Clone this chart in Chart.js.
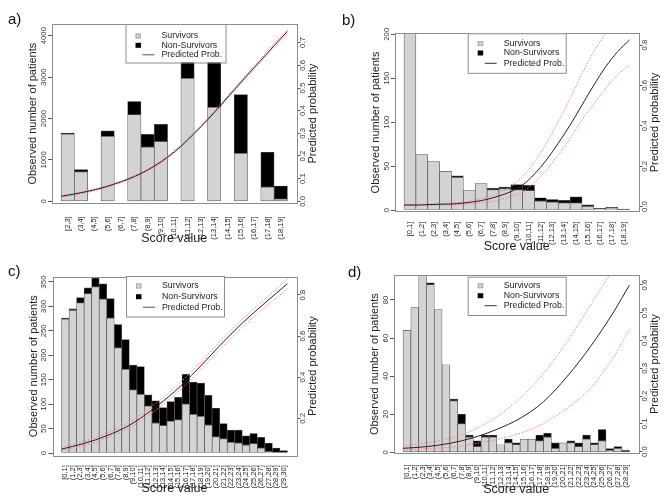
<!DOCTYPE html>
<html>
<head>
<meta charset="utf-8">
<script src="https://cdn.jsdelivr.net/npm/chart.js@4.4.1/dist/chart.umd.min.js"></script>
<style>
    body { margin: 0; background: #fff; }
    #wrap { position: relative; width: 669px; height: 501px; overflow: hidden; }
    canvas { position: absolute; }
</style>
</head>
<body>
<div id="wrap">
    <canvas id="panelA" width="334" height="250" style="left:0;top:0"></canvas>
    <canvas id="panelB" width="335" height="250" style="left:334px;top:0"></canvas>
    <canvas id="panelC" width="334" height="251" style="left:0;top:250px"></canvas>
    <canvas id="panelD" width="335" height="251" style="left:334px;top:250px"></canvas>
</div>
<script>
// --- Panel a) ---
const categoriesA = ['[2,3]', '(3,4]', '(4,5]', '(5,6]', '(6,7]', '(7,8]', '(8,9]', '(9,10]', '(10,11]',
    '(11,12]', '(12,13]', '(13,14]', '(14,15]', '(15,16]', '(16,17]', '(17,18]', '(18,19]'];
const survivorsA = [1620, 710, null, 1570, null, 2090, 1310, 1440, null, 2970, null, 2265, null, 1160, null, 345, 55];
const nonSurvivorsA = [25, 55, null, 130, null, 320, 305, 420, null, 520, null, 1350, null, 1415, null, 840, 315];
const probScoresA = [2, 3, 4, 5, 6, 7, 8, 9, 10, 11, 12, 13, 14, 15, 16, 17, 18, 19];
const probA = [0.022, 0.032, 0.044, 0.058, 0.076, 0.097, 0.123, 0.155, 0.195, 0.243, 0.300, 0.360, 0.425, 0.492, 0.558, 0.622, 0.687, 0.750];
const probUpperA = [0.026, 0.036, 0.048, 0.062, 0.080, 0.101, 0.127, 0.159, 0.199, 0.247, 0.304, 0.364, 0.430, 0.498, 0.565, 0.630, 0.696, 0.760];
const probLowerA = [0.018, 0.028, 0.040, 0.054, 0.072, 0.093, 0.119, 0.151, 0.191, 0.239, 0.296, 0.356, 0.420, 0.486, 0.551, 0.614, 0.678, 0.740];
const leftTicksA = [0, 1000, 2000, 3000, 4000];
const rightTicksA = [0, 0.1, 0.2, 0.3, 0.4, 0.5, 0.6, 0.7];

// --- Panel b) ---
const categoriesB = ['[0,1]', '(1,2]', '(2,3]', '(3,4]', '(4,5]', '(5,6]', '(6,7]', '(7,8]', '(8,9]', '(9,10]',
    '(10,11]', '(11,12]', '(12,13]', '(13,14]', '(14,15]', '(15,16]', '(16,17]', '(17,18]', '(18,19]'];
const survivorsB = [600, 63, 55, 44, 37, 22, 30, 23, 24, 23, 22, 10, 9, 8, 8, 4, 1, 2, null];
const nonSurvivorsB = [5, null, null, null, 2, null, null, 2, 2, 6, 6, 4, 3, 3, 7, 2, 1, 1, 1];
const probScoresB = [0, 1, 2, 3, 4, 5, 6, 7, 8, 9, 10, 11, 12, 13, 14, 15, 16, 17, 18, 19];
const probB = [0.008, 0.008, 0.010, 0.012, 0.013, 0.018, 0.025, 0.036, 0.053, 0.074, 0.107, 0.162, 0.231, 0.314, 0.404, 0.503, 0.602, 0.693, 0.767, 0.825];
const probUpperB = [0.010, 0.011, 0.013, 0.015, 0.018, 0.024, 0.033, 0.047, 0.068, 0.100, 0.149, 0.223, 0.314, 0.421, 0.536, 0.660, 0.767, 0.858, 0.930, 0.970];
const probLowerB = [0.006, 0.006, 0.007, 0.008, 0.009, 0.012, 0.016, 0.022, 0.033, 0.050, 0.074, 0.120, 0.180, 0.256, 0.338, 0.430, 0.510, 0.586, 0.652, 0.700];
const leftTicksB = [0, 50, 100, 150, 200];
const rightTicksB = [0, 0.2, 0.4, 0.6, 0.8];

// --- Panel c) ---
const categoriesC = ['[0,1]', '(1,2]', '(2,3]', '(3,4]', '(4,5]', '(5,6]', '(6,7]', '(7,8]', '(8,9]', '(9,10]',
    '(10,11]', '(11,12]', '(12,13]', '(13,14]', '(14,15]', '(15,16]', '(16,17]', '(17,18]', '(18,19]', '(19,20]',
    '(20,21]', '(21,22]', '(22,23]', '(23,24]', '(24,25]', '(25,26]', '(26,27]', '(27,28]', '(28,29]', '(29,30]'];
const survivorsC = [274, 292, 307, 326, 340, 315, 276, 215, 171, 129, 120, 96, 61, 56, 65, 68, 100, 79, 75, 57,
    33, 29, 22, 20, 16, 19, 10, 3, 1, 1];
const nonSurvivorsC = [2, 3, 11, 12, 18, 31, 40, 48, 61, 51, 57, 23, 46, 37, 40, 46, 61, 66, 68, 61,
    59, 31, 25, 27, 19, 21, 22, 17, 9, 4];
const probScoresC = [0, 3, 6, 9, 12, 15, 18, 21, 24, 27, 30];
const probC = [0.050, 0.078, 0.115, 0.166, 0.241, 0.330, 0.436, 0.553, 0.663, 0.761, 0.855];
const probUpperC = [0.060, 0.088, 0.127, 0.180, 0.258, 0.348, 0.455, 0.572, 0.682, 0.780, 0.878];
const probLowerC = [0.042, 0.068, 0.104, 0.153, 0.226, 0.313, 0.418, 0.534, 0.643, 0.740, 0.830];
const leftTicksC = [0, 50, 100, 150, 200, 250, 300, 350];
const rightTicksC = [0.2, 0.4, 0.6, 0.8];

// --- Panel d) ---
const categoriesD = ['[0,1]', '(1,2]', '(2,3]', '(3,4]', '(4,5]', '(5,6]', '(6,7]', '(7,8]', '(8,9]', '(9,10]',
    '(10,11]', '(11,12]', '(12,13]', '(13,14]', '(14,15]', '(15,16]', '(16,17]', '(17,18]', '(18,19]', '(19,20]',
    '(20,21]', '(21,22]', '(22,23]', '(23,24]', '(24,25]', '(25,26]', '(26,27]', '(27,28]', '(28,29]'];
const survivorsD = [64, 76, 96, 88, 75, 46, 27, 15, 8, 3, 8, 8, 4, 5, 4, 7, 7, 6, 8, 2, 5, 5, 3, 7, 4, 6, 1, 2, null];
const nonSurvivorsD = [null, null, null, 1, null, null, 1, 5, 1, 3, 1, 1, null, 2, 1, null, null, 3, 2, 3, null, 1, 2, 2, 1, 6, 1, 1, 1];
const probScoresD = [0, 3, 6, 9, 12, 15, 18, 21, 24, 27, 29];
const probD = [0.012, 0.018, 0.030, 0.050, 0.080, 0.120, 0.180, 0.270, 0.378, 0.504, 0.600];
const probUpperD = [0.020, 0.032, 0.048, 0.078, 0.126, 0.192, 0.282, 0.396, 0.528, 0.660, 0.740];
const probLowerD = [0.006, 0.010, 0.016, 0.028, 0.044, 0.066, 0.102, 0.156, 0.228, 0.342, 0.440];
const leftTicksD = [0, 20, 40, 60, 80];
const rightTicksD = [0, 0.1, 0.2, 0.3, 0.4, 0.5, 0.6];

Chart.defaults.font.family = "'Liberation Sans', Arial, sans-serif";
Chart.defaults.color = '#333';

const FONT = "'Liberation Sans', Arial, sans-serif";

// bar i sits at x = i, score edge s sits at x = s - first - 0.5
function toBars(values) {
    return values.map((v, i) => ({ x: i, y: v }));
}
function toCurve(scores, probs, first) {
    return scores.map((s, i) => ({ x: s - first - 0.5, y: probs[i] }));
}

// R-style extras: box, legend inside plot, rotated y labels, right title, panel tag
function makeRPlot(p) {
    return {
        id: 'rPlot',
        afterDatasetsDraw(chart) {
            const ctx = chart.ctx;
            const a = chart.chartArea;
            ctx.save();
            ctx.strokeStyle = '#8c8c8c';
            ctx.lineWidth = 1;
            ctx.strokeRect(Math.round(a.left) + 0.5, Math.round(a.top) + 0.5,
                Math.round(a.right - a.left), Math.round(a.bottom - a.top));

            // legend box
            const L = p.legend;
            const ds = chart.data.datasets;
            ctx.fillStyle = '#fff';
            ctx.fillRect(L.x, L.y, L.w, L.h);
            ctx.strokeStyle = '#8c8c8c';
            ctx.strokeRect(L.x + 0.5, L.y + 0.5, L.w, L.h);

            ctx.fillStyle = '#d3d3d3';
            ctx.fillRect(L.x + 10, L.rows[0] - 2.5, 5.5, 5);
            ctx.strokeStyle = '#aaa';
            ctx.strokeRect(L.x + 10.5, L.rows[0] - 2, 4.5, 4);
            ctx.fillStyle = '#000';
            ctx.fillRect(L.x + 10, L.rows[1] - 2.5, 5.5, 5);

            ctx.strokeStyle = p.legendLine.color;
            ctx.lineWidth = p.legendLine.width;
            ctx.beginPath();
            ctx.moveTo(L.x + 17, L.rows[2]);
            ctx.lineTo(L.x + 29, L.rows[2]);
            ctx.stroke();

            ctx.fillStyle = '#222';
            ctx.font = '8.8px ' + FONT;
            ctx.textAlign = 'left';
            ctx.textBaseline = 'middle';
            ctx.fillText(ds[3].label, L.x + 36, L.rows[0]);
            ctx.fillText(ds[4].label, L.x + 36, L.rows[1]);
            ctx.fillText(ds[0].label, L.x + 36, L.rows[2]);
            ctx.restore();
        },
        afterDraw(chart) {
            const ctx = chart.ctx;
            const a = chart.chartArea;
            ctx.save();
            ctx.fillStyle = '#333';
            ctx.font = '7.8px ' + FONT;
            ctx.textAlign = 'center';
            ctx.textBaseline = 'middle';

            const drawRotated = (text, x, y) => {
                ctx.save();
                ctx.translate(x, y);
                ctx.rotate(-Math.PI / 2);
                ctx.fillText(text, 0, 0);
                ctx.restore();
            };

            const yl = chart.scales.y;
            yl.ticks.forEach(t => drawRotated(String(t.value), a.left - 8.5, yl.getPixelForValue(t.value)));
            const yr = chart.scales.yRight;
            yr.ticks.forEach(t => drawRotated(t.value.toFixed(1), a.right + 6.5, yr.getPixelForValue(t.value)));

            // right axis title, R reads it bottom to top
            ctx.fillStyle = '#222';
            ctx.font = '11px ' + FONT;
            drawRotated('Predicted probability', a.right + 16, (a.top + a.bottom) / 2);

            // panel tag
            ctx.font = '15px ' + FONT;
            ctx.textAlign = 'left';
            ctx.fillStyle = '#111';
            ctx.fillText(p.tag, p.tagPos[0], p.tagPos[1]);
            ctx.restore();
        }
    };
}

function buildPanel(p) {
    const canvas = document.getElementById(p.id);
    const W = canvas.width;
    const H = canvas.height;
    const n = p.categories.length;
    const pad = n * 0.04;
    const lineStyle = { pointRadius: 0, borderWidth: 1, cubicInterpolationMode: 'monotone', yAxisID: 'yRight', order: 0, fill: false };
    const ciStyle = { ...lineStyle, borderColor: '#ff8080', borderDash: [1.5, 1.5] };
    const barStyle = { yAxisID: 'y', stack: 'obs', barPercentage: 1, categoryPercentage: 1, borderWidth: 0.7, borderColor: '#555', borderSkipped: false, order: 1 };

    return new Chart(canvas, {
        type: 'bar',
        data: {
            datasets: [
                { type: 'line', label: 'Predicted Prob.', data: toCurve(p.probScores, p.prob, p.first), borderColor: '#222', ...lineStyle },
                { type: 'line', label: 'Upper', data: toCurve(p.probScores, p.upper, p.first), ...ciStyle },
                { type: 'line', label: 'Lower', data: toCurve(p.probScores, p.lower, p.first), ...ciStyle },
                { label: 'Survivors', data: toBars(p.survivors), backgroundColor: '#d3d3d3', ...barStyle },
                { label: 'Non-Survivors', data: toBars(p.nonSurvivors), backgroundColor: '#000', ...barStyle }
            ]
        },
        options: {
            responsive: false,
            animation: false,
            devicePixelRatio: 1,
            layout: { padding: { top: p.area.top, left: 0, right: 0, bottom: 0 } },
            plugins: { legend: { display: false }, tooltip: { enabled: false } },
            scales: {
                x: {
                    type: 'linear',
                    stacked: true,
                    offset: false,
                    min: -0.5 - pad,
                    max: n - 0.5 + pad,
                    afterBuildTicks: s => { s.ticks = p.categories.map((c, i) => ({ value: i })); },
                    afterFit: s => { s.height = H - p.area.bottom; },
                    grid: { display: false },
                    border: { display: false },
                    ticks: {
                        autoSkip: false,
                        minRotation: 90,
                        maxRotation: 90,
                        padding: p.xTickPad,
                        font: { size: 7.5 },
                        color: '#222',
                        callback: v => p.categories[v]
                    },
                    title: {
                        display: true,
                        text: 'Score value',
                        font: { size: 12.5 },
                        color: '#222',
                        padding: { top: 0, bottom: p.xTitlePad }
                    }
                },
                y: {
                    position: 'left',
                    stacked: true,
                    min: p.leftRange[0],
                    max: p.leftRange[1],
                    afterBuildTicks: s => { s.ticks = p.leftTicks.map(v => ({ value: v })); },
                    afterFit: s => { s.width = p.area.left; },
                    ticks: { display: false },
                    grid: { drawOnChartArea: false, tickLength: 4, color: '#555' },
                    border: { display: false },
                    title: {
                        display: true,
                        text: 'Observed number of patients',
                        font: { size: 11 },
                        color: '#222',
                        padding: { top: p.area.left - 19 - 6.6, bottom: 0 }
                    }
                },
                yRight: {
                    position: 'right',
                    min: p.rightRange[0],
                    max: p.rightRange[1],
                    afterBuildTicks: s => { s.ticks = p.rightTicks.map(v => ({ value: v })); },
                    afterFit: s => { s.width = W - p.area.right; },
                    ticks: { display: false },
                    grid: { drawOnChartArea: false, tickLength: 4, color: '#555' },
                    border: { display: false }
                }
            }
        },
        plugins: [makeRPlot(p)]
    });
}

buildPanel({
    id: 'panelA', tag: 'a)', tagPos: [8, 20],
    categories: categoriesA, survivors: survivorsA, nonSurvivors: nonSurvivorsA,
    probScores: probScoresA, prob: probA, upper: probUpperA, lower: probLowerA, first: 2,
    leftTicks: leftTicksA, rightTicks: rightTicksA,
    leftRange: [-48, 4281], rightRange: [-0.0088, 0.7825],
    area: { left: 52, right: 296.5, top: 24, bottom: 203.3 },
    xTickPad: 5, xTitlePad: 3.5,
    legend: { x: 125.5, y: 24, w: 100, h: 38.5, rows: [36, 45.3, 54.7] },
    legendLine: { color: '#888', width: 1.5 }
});

buildPanel({
    id: 'panelB', tag: 'b)', tagPos: [8, 20.5],
    categories: categoriesB, survivors: survivorsB, nonSurvivors: nonSurvivorsB,
    probScores: probScoresB, prob: probB, upper: probUpperB, lower: probLowerB, first: 0,
    leftTicks: leftTicksB, rightTicks: rightTicksB,
    leftRange: [-1.9, 201.1], rightRange: [-0.025, 0.858],
    area: { left: 61, right: 304.5, top: 33.3, bottom: 211.7 },
    xTickPad: 2, xTitlePad: -4,
    legend: { x: 133.7, y: 33.3, w: 98, h: 39.5, rows: [43.5, 53, 63.3] },
    legendLine: { color: '#333', width: 1 }
});

buildPanel({
    id: 'panelC', tag: 'c)', tagPos: [8, 21.7],
    categories: categoriesC, survivors: survivorsC, nonSurvivors: nonSurvivorsC,
    probScores: probScoresC, prob: probC, upper: probUpperC, lower: probLowerC, first: 0,
    leftTicks: leftTicksC, rightTicks: rightTicksC,
    leftRange: [-5.5, 360.8], rightRange: [0.018, 0.889],
    area: { left: 52.5, right: 296.5, top: 26.7, bottom: 205.7 },
    xTickPad: 1.5, xTitlePad: 4.5,
    legend: { x: 126, y: 26, w: 98, h: 40.5, rows: [36, 46.7, 57.3] },
    legendLine: { color: '#888', width: 1.5 }
});

buildPanel({
    id: 'panelD', tag: 'd)', tagPos: [14, 22.5],
    categories: categoriesD, survivors: survivorsD, nonSurvivors: nonSurvivorsD,
    probScores: probScoresD, prob: probD, upper: probUpperD, lower: probLowerD, first: 0,
    leftTicks: leftTicksD, rightTicks: rightTicksD,
    leftRange: [-0.5, 93.1], rightRange: [-0.006, 0.636],
    area: { left: 60, right: 304.5, top: 25, bottom: 203.3 },
    xTickPad: 3, xTitlePad: 4.2,
    legend: { x: 133.7, y: 26.7, w: 98, h: 38.3, rows: [35.7, 45.7, 55.7] },
    legendLine: { color: '#333', width: 1 }
});
</script>
</body>
</html>
